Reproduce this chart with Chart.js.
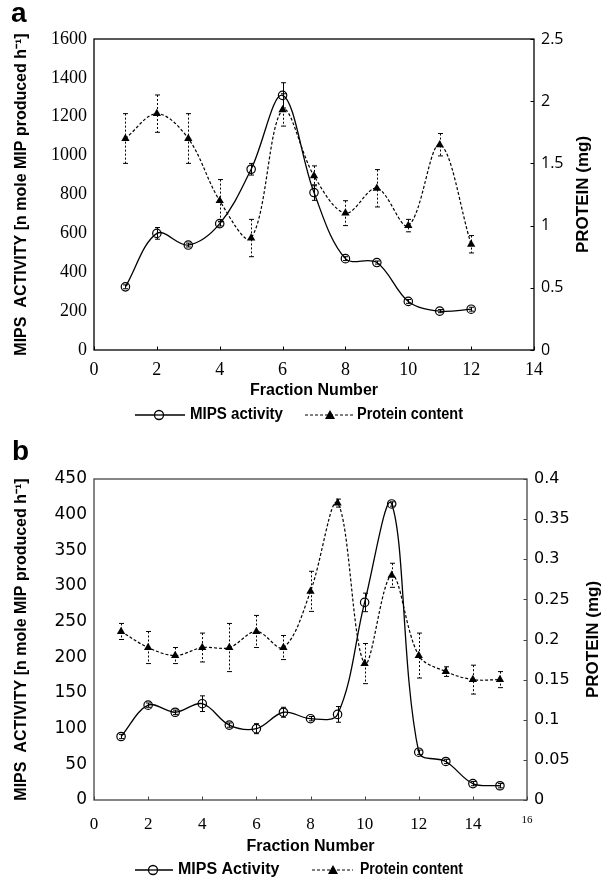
<!DOCTYPE html>
<html><head><meta charset="utf-8">
<script src="https://cdn.jsdelivr.net/npm/chart.js@4.4.0/dist/chart.umd.min.js"></script>
<style>
html,body{margin:0;padding:0;background:#fff;}
#wrap{position:relative;width:608px;height:880px;background:#fff;}
canvas{position:absolute;left:0;}
#ca{top:0}
#cb{top:440px}
.lbl{position:absolute;font:bold 28px "Liberation Sans",Arial,sans-serif;color:#000;line-height:28px;}
</style></head><body>
<div id="wrap">
<canvas id="ca" width="608" height="440"></canvas>
<canvas id="cb" width="608" height="440"></canvas>
<div class="lbl" style="left:11px;top:-1px">a</div>
<div class="lbl" style="left:12px;top:437px">b</div>
</div>
<script>
// ---------- Panel a data ----------
const fractionsA = [1,2,3,4,5,6,7,8,9,10,11,12];
const mipsA      = [325,600,540,650,930,1310,810,470,450,250,200,210];
const mipsErrA   = [10,30,10,12,30,65,40,10,8,10,8,10];
const proteinA   = [1.7,1.9,1.7,1.2,0.9,1.93,1.4,1.1,1.3,1.0,1.65,0.85];
const proteinErrA= [0.2,0.15,0.2,0.17,0.15,0.13,0.08,0.1,0.15,0.05,0.09,0.07];

// ---------- Panel b data ----------
const fractionsB = [1,2,3,4,5,6,7,8,9,10,11,12,13,14,15];
const mipsB      = [89,133,123,135,105,100,123,114,120,277,415,67,54,23,20];
const mipsErrB   = [3,3,3,11,3,7,7,3,11,13,3,3,3,3,3];
const proteinB   = [0.21,0.19,0.18,0.19,0.19,0.21,0.19,0.26,0.37,0.17,0.28,0.18,0.16,0.15,0.15];
const proteinErrB= [0.01,0.02,0.01,0.018,0.03,0.02,0.015,0.025,0.005,0.025,0.015,0.028,0.006,0.018,0.01];

const yTitle = 'MIPS  ACTIVITY [n mole MIP produced h\u207B\u00B9]';
const y1Title = 'PROTEIN (mg)';
const xTitle = 'Fraction Number';

function pts(xs, ys){ return xs.map((x,i)=>({x:x, y:ys[i]})); }
function fmt(v){ return String(Math.round(v*1000)/1000); }

const decor = {
  id:'decor',
  afterDatasetsDraw(chart, args, o){
    const ctx = chart.ctx;
    const ys = chart.scales.y, y1 = chart.scales.y1;
    o.errs.forEach((errs, di)=>{
      const meta = chart.getDatasetMeta(di);
      const sc = di===0 ? ys : y1;
      const vals = chart.data.datasets[di].data;
      ctx.save();
      ctx.strokeStyle = '#000';
      ctx.lineWidth = 1;
      meta.data.forEach((p,j)=>{
        const v = vals[j].y, e = errs[j];
        const top = sc.getPixelForValue(v+e), bot = sc.getPixelForValue(v-e);
        const x = Math.round(p.x)+0.5;
        ctx.setLineDash(di===1 ? [2,2] : []);
        ctx.beginPath();
        ctx.moveTo(x, top); ctx.lineTo(x, bot);
        ctx.stroke();
        ctx.setLineDash([]);
        ctx.beginPath();
        ctx.moveTo(x-2.5, top); ctx.lineTo(x+2.5, top);
        ctx.moveTo(x-2.5, bot); ctx.lineTo(x+2.5, bot);
        ctx.stroke();
      });
      ctx.restore();
    });
  },
  afterDraw(chart, args, o){
    const ctx = chart.ctx;
    const a = chart.chartArea;
    const xs = chart.scales.x, y1 = chart.scales.y1;
    ctx.save();
    ctx.strokeStyle = o.frame;
    ctx.lineWidth = 1.3;
    ctx.strokeRect(a.left, a.top, a.right-a.left, a.bottom-a.top);
    ctx.lineWidth = 1;
    ctx.beginPath();
    xs.ticks.forEach(t=>{
      const px = Math.round(xs.getPixelForValue(t.value))+0.5;
      ctx.moveTo(px, a.bottom); ctx.lineTo(px, a.bottom-3.5);
    });
    y1.ticks.forEach(t=>{
      const py = Math.round(y1.getPixelForValue(t.value))+0.5;
      ctx.moveTo(a.right, py); ctx.lineTo(a.right-3.5, py);
    });
    ctx.stroke();
    // right title (reads bottom to top)
    ctx.fillStyle = '#000';
    ctx.font = 'bold 17px "Liberation Sans", Arial, sans-serif';
    ctx.textAlign = 'center';
    ctx.textBaseline = 'middle';
    ctx.translate(o.rtX, (a.top+a.bottom)/2);
    ctx.rotate(-Math.PI/2);
    ctx.fillText(y1Title, 0, 0, o.rtW);
    ctx.setTransform(1,0,0,1,0,0);
    // legend
    const L = o.legend;
    const ly = L.y;
    ctx.strokeStyle = '#000';
    ctx.lineWidth = 1.3;
    ctx.beginPath(); ctx.moveTo(L.c1[0], ly); ctx.lineTo(L.c1[1], ly); ctx.stroke();
    ctx.fillStyle = '#fff';
    ctx.beginPath(); ctx.arc(L.c1[2], ly, 4.5, 0, Math.PI*2); ctx.fill(); ctx.stroke();
    ctx.beginPath(); ctx.moveTo(L.c1[2]-4.5, ly); ctx.lineTo(L.c1[2]+4.5, ly); ctx.stroke();
    ctx.setLineDash([3,2]);
    ctx.lineWidth = 1.2;
    ctx.beginPath(); ctx.moveTo(L.c2[0], ly); ctx.lineTo(L.c2[1], ly); ctx.stroke();
    ctx.setLineDash([]);
    ctx.fillStyle = '#000';
    const tx = L.c2[2];
    ctx.beginPath(); ctx.moveTo(tx, ly-5); ctx.lineTo(tx+5, ly+4); ctx.lineTo(tx-5, ly+4); ctx.closePath(); ctx.fill();
    ctx.font = L.font;
    ctx.textAlign = 'left';
    ctx.textBaseline = 'middle';
    ctx.fillText(L.t1, L.c1[3], ly, L.w1);
    ctx.fillText(L.t2, L.c2[3], ly, L.w2);
    ctx.restore();
  }
};

function makeChart(id, cfg){
  return new Chart(document.getElementById(id), {
    type:'line',
    data:{datasets:[
      {label:cfg.l1, data:pts(cfg.fx, cfg.m), yAxisID:'y', borderColor:'#000', borderWidth:1.3,
       tension:0.35, pointStyle:'circle', pointRadius:4.2, pointBorderWidth:1.2,
       pointBorderColor:'#000', pointBackgroundColor:'rgba(0,0,0,0)', fill:false},
      {label:cfg.l2, data:pts(cfg.fx, cfg.p), yAxisID:'y1', borderColor:'#000', borderWidth:1.2,
       borderDash:[3,2], tension:0.35, pointStyle:'triangle', pointRadius:4.8, pointBorderWidth:0,
       pointBackgroundColor:'#000', pointBorderColor:'#000', fill:false}
    ]},
    options:{
      responsive:false, animation:false, events:[],
      layout:{padding:{top:cfg.top, left:0, right:0, bottom:0}},
      plugins:{legend:{display:false}, tooltip:{enabled:false},
        decor:{errs:[cfg.me, cfg.pe], frame:cfg.frame, rtX:cfg.rtX, rtW:cfg.rtW, legend:cfg.legend}},
      scales:{
        x:{type:'linear', position:'bottom', min:0, max:cfg.xmax,
           grid:{display:false, drawTicks:false}, border:{display:false},
           ticks:{stepSize:2, autoSkip:false, maxRotation:0, padding:cfg.xPad, color:'#000',
             font: cfg.xFont, callback:(v)=>fmt(v)},
           title:{display:true, text:xTitle, color:'#000',
             font:{family:'"Liberation Sans", Arial, sans-serif', size:16, weight:'bold'},
             padding:{top:0, bottom:cfg.xtPad}},
           afterFit(s){ s.height = cfg.xH; }},
        y:{type:'linear', position:'left', min:0, max:cfg.ymax,
           grid:{display:false, drawTicks:false}, border:{display:false},
           ticks:{stepSize:cfg.ystep, padding:7, color:'#000', font:cfg.yFont, callback:(v)=>fmt(v)},
           title:{display:true, text:yTitle, color:'#000',
             font:{family:'"Liberation Sans", Arial, sans-serif', size:16, weight:'bold'},
             padding:{top:12, bottom:0}},
           afterFit(s){ s.width = 94; }},
        y1:{type:'linear', position:'right', min:0, max:cfg.y1max,
           grid:{display:false, drawTicks:false}, border:{display:false},
           ticks:{stepSize:cfg.y1step, padding:7, color:'#000', font:cfg.y1Font,
             callback:(v)=>fmt(v)},
           afterFit(s){ s.width = cfg.rW; }}
      }
    },
    plugins:[decor]
  });
}

makeChart('ca', {
  fx:fractionsA, m:mipsA, me:mipsErrA, p:proteinA, pe:proteinErrA,
  l1:'MIPS activity', l2:'Protein content',
  top:39, xmax:14, ymax:1600, ystep:200, y1max:2.5, y1step:0.5,
  xH:90, xPad:9.5, xtPad:40, rW:74, rtX:583, rtW:122, frame:'#000',
  xFont:{family:'"Liberation Serif", serif', size:18},
  yFont:{family:'"Liberation Serif", serif', size:18},
  y1Font:{family:'"Open Sans", sans-serif', size:16},
  legend:{y:415, c1:[135,185,159,190], c2:[305,353,330,357], t1:'MIPS activity', t2:'Protein content',
    w1:93, w2:106, font:'bold 16px "Liberation Sans", Arial, sans-serif'}
});

makeChart('cb', {
  fx:fractionsB, m:mipsB, me:mipsErrB, p:proteinB, pe:proteinErrB,
  l1:'MIPS Activity', l2:'Protein content',
  top:39, xmax:16, ymax:450, ystep:50, y1max:0.4, y1step:0.05,
  xH:80, xPad:14, xtPad:24, rW:81, rtX:593, rtW:122, frame:'#444',
  xFont:(c)=>({family:'"Liberation Serif", serif', size:(c.tick && c.tick.value===16) ? 11 : 17}),
  yFont:{family:'"DejaVu Sans", sans-serif', size:17},
  y1Font:{family:'"DejaVu Sans", sans-serif', size:16},
  legend:{y:430, c1:[135,173,153,178], c2:[312,353,333,360], t1:'MIPS Activity', t2:'Protein content',
    w1:105, w2:103, font:'bold 16px "Liberation Sans", Arial, sans-serif'}
});
</script>
</body></html>
